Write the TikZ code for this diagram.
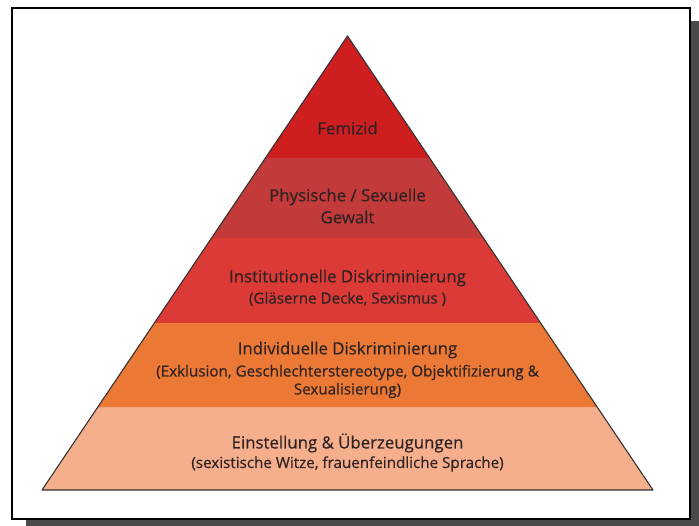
\documentclass[tikz,border=0pt]{standalone}
\usepackage{fontspec}
\setmainfont{Open Sans}[FakeBold=0.4]
\usetikzlibrary{calc}
\definecolor{shadowgray}{HTML}{4A4A4A}
\definecolor{cA}{HTML}{CE1E20}
\definecolor{cB}{HTML}{C33A3B}
\definecolor{cC}{HTML}{DB3A36}
\definecolor{cD}{HTML}{EB7835}
\definecolor{cE}{HTML}{F6AF8C}
\definecolor{txt}{HTML}{2E2222}
\tikzset{
  lbl/.style={align=center, text=txt, font=\fontsize{16.8}{22}\selectfont, inner sep=0pt},
  sublbl/.style={align=center, text=txt, font=\fontsize{15.2}{18}\selectfont, inner sep=0pt},
  edge/.style={draw=black!80, line width=1.1pt, line join=round}
}
\begin{document}
\begin{tikzpicture}[x=1pt,y=-1pt]
\useasboundingbox (0,0) rectangle (699,526);
\fill[white] (0,0) rectangle (699,526);
% shadow and frame
\fill[shadowgray] (26,21) rectangle (699,526);
\draw[fill=white, line width=2.5pt] (12,8) rectangle (690,519);
% pyramid corners
\coordinate (A) at (347.5,36);
\coordinate (L) at (42,490);
\coordinate (R) at (653,490);
\newcommand{\lyr}[3]{%
  \fill[#3] ($(L)!#1!(A)$) -- ($(R)!#1!(A)$) -- ($(R)!#2!(A)$) -- ($(L)!#2!(A)$) -- cycle;}
% fractions from base: (490-y)/454
\lyr{0}{0.18282}{cE}
\lyr{0.18282}{0.36784}{cD}
\lyr{0.36784}{0.55507}{cC}
\lyr{0.55507}{0.73128}{cB}
\fill[cA] ($(L)!0.73128!(A)$) -- ($(R)!0.73128!(A)$) -- (A) -- cycle;
\draw[edge] (L) -- (A) -- (R) -- cycle;
% labels
\node[lbl] (t1) at (347.5,128) {Femizid};
\node[lbl] (t2) at (347.5,206) {Physische / Sexuelle\\Gewalt};
\node[lbl] (t3a) at (347.5,278) {Institutionelle Diskriminierung};
\node[sublbl] (t3b) at (347.5,299) {(Gläserne Decke, Sexismus )};
\node[lbl] (t4a) at (347.5,350) {Individuelle Diskriminierung};
\node[sublbl] (t4b) at (347.5,381.5) {(Exklusion, Geschlechterstereotype, Objektifizierung \&\\Sexualisierung)};
\node[lbl] (t5a) at (347.5,443) {Einstellung \& Überzeugungen};
\node[sublbl] (t5b) at (347.5,464) {(sexistische Witze, frauenfeindliche Sprache)};
\end{tikzpicture}
\end{document}
